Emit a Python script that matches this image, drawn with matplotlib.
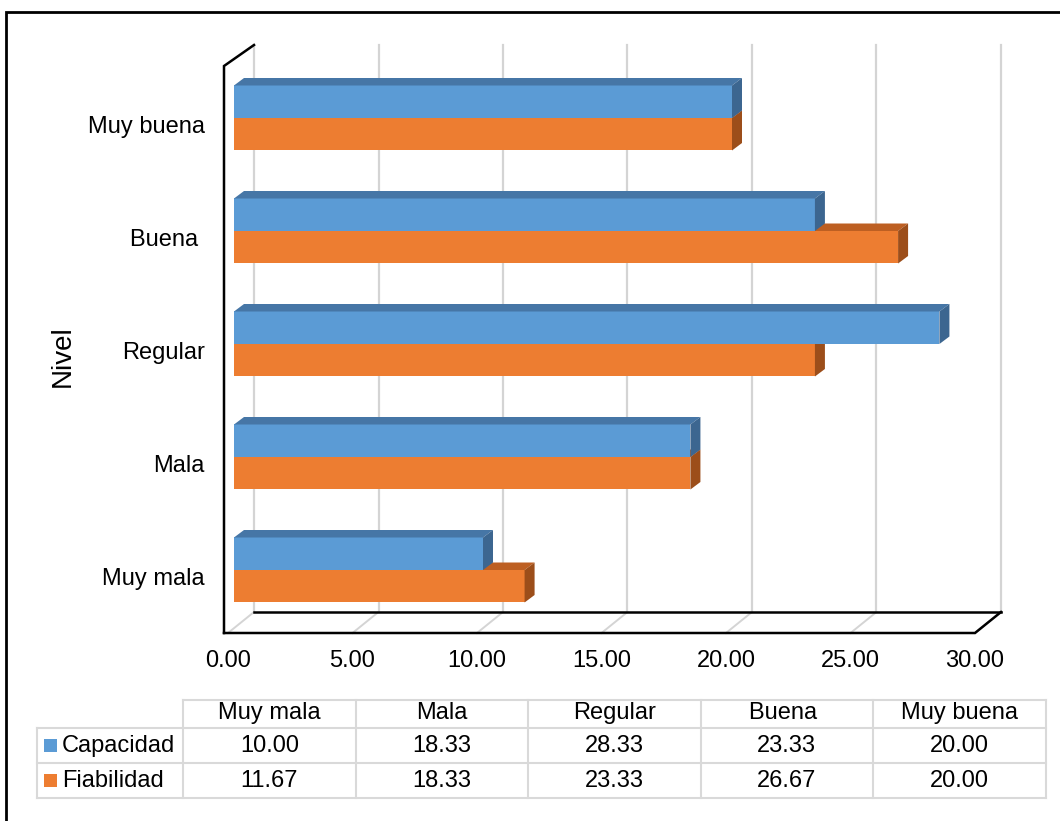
import matplotlib.pyplot as plt
from matplotlib.patches import Polygon, Rectangle

plt.rcParams['font.family'] = ['Liberation Sans', 'DejaVu Sans']

niveles = ['Muy mala', 'Mala', 'Regular', 'Buena ', 'Muy buena']
capacidad = [10.00, 18.33, 28.33, 23.33, 20.00]
fiabilidad = [11.67, 18.33, 23.33, 26.67, 20.00]
series = ['Capacidad', 'Fiabilidad']
ticks = [0, 5, 10, 15, 20, 25, 30]

# front, top and side shades of each series
azul = ('#5b9bd5', '#4676a6', '#3c6690')
naranja = ('#ed7d31', '#bd5f22', '#9c4e1a')

W, H = 1060, 821
PX_X = 24.9    # pixels per unit of value
PX_Y = 113.    # pixels per category

fondo = (26 / PX_X, 21 / PX_Y)     # depth of the chart box
prof = (10 / PX_X, 7.5 / PX_Y)     # depth of each bar
x_bar = 6 / PX_X                   # bars sit a bit behind the front plane
h = 32.5 / PX_Y                    # height of one bar
y_suelo = -63 / PX_Y
y_techo = 525 / PX_Y
x_pared = -4 / PX_X

fig = plt.figure(figsize=(W / 100, H / 100), dpi=100)
ax = fig.add_axes([0, 0, 1, 1])
ax.set_xlim(-228 / PX_X, (W - 228) / PX_X)
ax.set_ylim((570 - H) / PX_Y, 570 / PX_Y)
ax.axis('off')

gris = '#d4d4d4'
# floor and back wall grid
for t in ticks:
    ax.plot([t, t + fondo[0]], [y_suelo, y_suelo + fondo[1]], color=gris, lw=1.4, zorder=1)
    ax.plot([t + fondo[0], t + fondo[0]], [y_suelo + fondo[1], y_techo], color=gris, lw=1.6, zorder=1)
    ax.text(t, -91 / PX_Y, '%.2f' % t, ha='center', va='center', fontsize=17)

# floor outline
x_fin = ticks[-1]
ax.plot([x_pared, x_fin, x_fin + fondo[0]], [y_suelo, y_suelo, y_suelo + fondo[1]],
        color='black', lw=1.8, zorder=2, solid_joinstyle='miter')
ax.plot([fondo[0], x_fin + fondo[0]], [y_suelo + fondo[1]] * 2, color='black', lw=1.8, zorder=2)
# left wall
ax.plot([x_pared, x_pared, fondo[0]], [y_suelo, y_techo - fondo[1], y_techo],
        color='black', lw=1.8, zorder=2, solid_joinstyle='miter')


def barra3d(y0, val, colores, z):
    frente, arriba, lado = colores
    x1 = x_bar + val
    ax.barh(y0, val, left=x_bar, height=h, align='edge', color=frente, lw=0, zorder=z)
    ax.add_patch(Polygon([(x_bar, y0 + h), (x_bar + prof[0], y0 + h + prof[1]),
                          (x1 + prof[0], y0 + h + prof[1]), (x1, y0 + h)],
                         closed=True, fc=arriba, lw=0, zorder=z))
    ax.add_patch(Polygon([(x1, y0), (x1 + prof[0], y0 + prof[1]),
                          (x1 + prof[0], y0 + h + prof[1]), (x1, y0 + h)],
                         closed=True, fc=lado, lw=0, zorder=z))


for i, nombre in enumerate(niveles):
    barra3d(i - h, fiabilidad[i], naranja, 3 + 2 * i)
    barra3d(i, capacidad[i], azul, 4 + 2 * i)
    ax.text(-23 / PX_X, i - 0.08, nombre, ha='right', va='center', fontsize=17)

ax.text(-165 / PX_X, 214 / PX_Y, 'Nivel', rotation=90, ha='center', va='center', fontsize=20)

# data table under the chart
col_w = 172.5
tab = fig.add_axes([37 / W, (H - 798) / H, (1045.5 - 37) / W, 98 / H])
x_izq = -146 / col_w
tab.set_xlim(x_izq, len(niveles))
tab.set_ylim(0, 98 / 35)
tab.axis('off')
y_top = 98 / 35
linea = dict(color='#d9d9d9', lw=1.5, clip_on=False)
for y in (0, 1, 2):
    tab.plot([x_izq, len(niveles)], [y, y], **linea)
tab.plot([0, len(niveles)], [y_top, y_top], **linea)
tab.plot([x_izq, x_izq], [0, 2], **linea)
for j in range(len(niveles) + 1):
    tab.plot([j, j], [0, y_top], **linea)

for j, nombre in enumerate(niveles):
    tab.text(j + 0.5, 2.43, nombre, ha='center', va='center', fontsize=17)
    tab.text(j + 0.5, 1.5, '%.2f' % capacidad[j], ha='center', va='center', fontsize=17)
    tab.text(j + 0.5, 0.5, '%.2f' % fiabilidad[j], ha='center', va='center', fontsize=17)

for fila, (nombre, color) in zip((1, 0), zip(series, (azul[0], naranja[0]))):
    tab.add_patch(Rectangle((x_izq + 7 / col_w, fila + 0.5 - 6.5 / 35), 13 / col_w, 13 / 35,
                            fc=color, lw=0))
    tab.text(x_izq + 25 / col_w, fila + 0.5, nombre, ha='left', va='center', fontsize=17)

# frame around the whole figure
fig.add_artist(Rectangle((6 / W, -0.05), 1.2, (H - 12) / H + 0.05, transform=fig.transFigure,
                         fill=False, ec='black', lw=2))

fig.savefig('out.png', dpi=100)
